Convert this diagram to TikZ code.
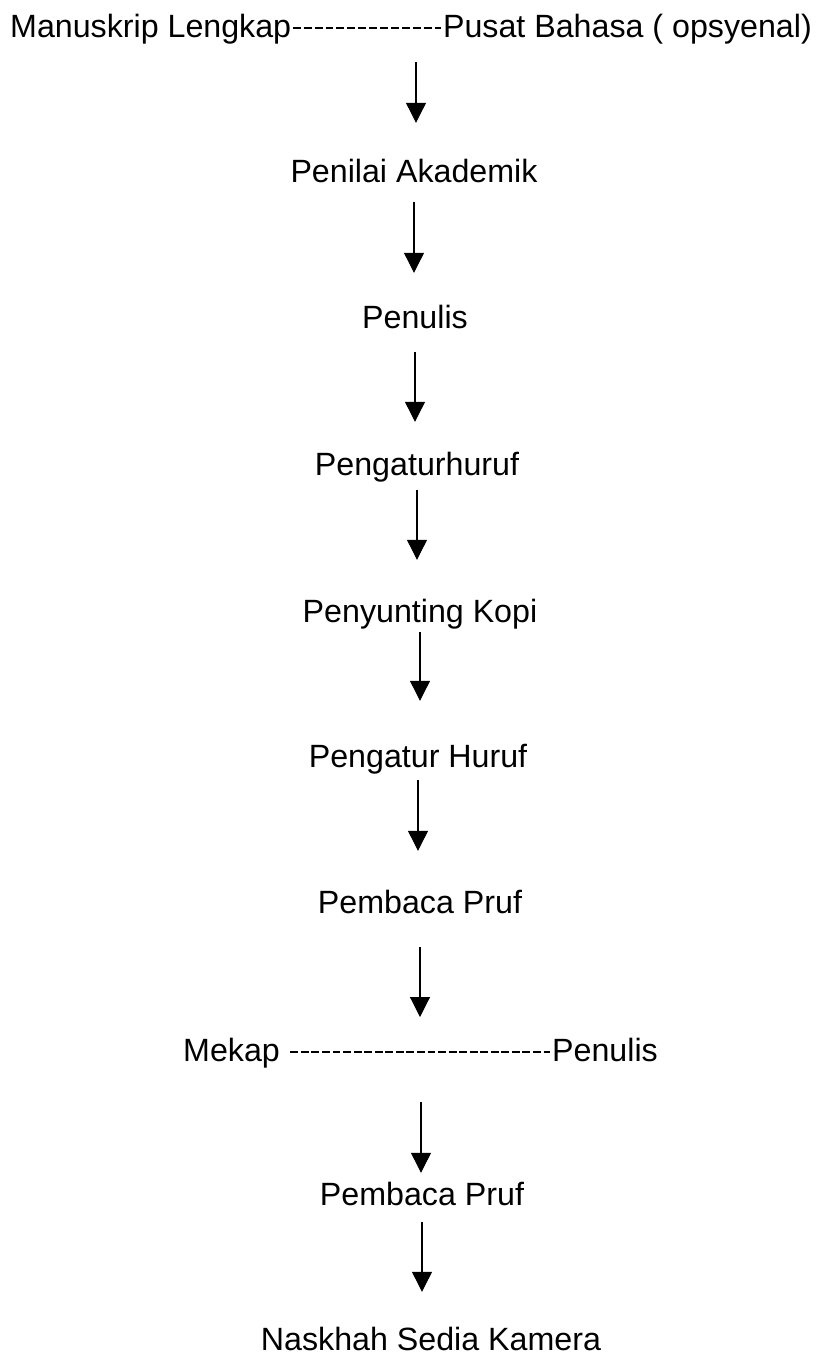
\documentclass[tikz,border=0pt]{standalone}
\usepackage{fontspec}
\setmainfont{Liberation Sans}
\usetikzlibrary{arrows.meta}
\begin{document}
\begin{tikzpicture}[x=1pt,y=-1pt,
  lbl/.style={font=\fontsize{32.2}{38}\selectfont, inner sep=0pt, text height=23.1pt, text depth=6.8pt, anchor=base},
  flow/.style={line width=1.1pt, -{Triangle[width=20pt,length=20pt]}},
  hyph/.style={line width=1.6pt}]
\useasboundingbox[fill=white] (0,0) rectangle (822,1358);

% nodes
\node[lbl, anchor=base west] (ml) at (10,37) {Manuskrip Lengkap};
\node[lbl, anchor=base east] (pb) at (812,37) {Pusat Bahasa ( opsyenal)};
\coordinate (topsrc) at (416,28);
\node[lbl] (n1) at (414,182) {Penilai Akademik};
\node[lbl] (n2) at (415,328) {Penulis};
\node[lbl] (n3) at (417,475) {Pengaturhuruf};
\node[lbl] (n4) at (420,622) {Penyunting Kopi};
\node[lbl] (n5) at (418,767) {Pengatur Huruf};
\node[lbl] (n6) at (420,913) {Pembaca Pruf};
\node[lbl, anchor=base west] (mk) at (183,1061) {Mekap};
\node[lbl, anchor=base east] (pn) at (658,1061) {Penulis};
\coordinate (mksrc) at (421,1052);
\node[lbl] (n7) at (422,1205) {Pembaca Pruf};
\node[lbl] (n8) at (431,1350) {Naskhah Sedia Kamera};

% dashed links
\draw[hyph, dash pattern=on 7.9pt off 3pt] ([xshift=1.4pt,yshift=8.9pt]ml.base east) -- ([xshift=-1.5pt,yshift=8.9pt]pb.base west);
\draw[hyph, dash pattern=on 7.9pt off 2.65pt] ([xshift=10.3pt,yshift=8.9pt]mk.base east) -- ([xshift=-1.5pt,yshift=8.9pt]pn.base west);

% arrows
\draw[flow, shorten <=34pt, shorten >=35.9pt] (topsrc) -- (topsrc |- n1.north);
\draw[flow, shorten <=13.2pt, shorten >=31.9pt] (n1.south) -- (n1.south |- n2.north);
\draw[flow, shorten <=17.2pt, shorten >=29.9pt] (n2.south) -- (n2.south |- n3.north);
\draw[flow, shorten <=8.2pt, shorten >=38.9pt] (n3.south) -- (n3.south |- n4.north);
\draw[flow, shorten <=3.2pt, shorten >=42.9pt] (n4.south) -- (n4.south |- n5.north);
\draw[flow, shorten <=6.2pt, shorten >=38.9pt] (n5.south) -- (n5.south |- n6.north);
\draw[flow, shorten <=27.2pt, shorten >=35pt] (n6.south) -- (n6.south |- mksrc);
\draw[flow, shorten <=50pt, shorten >=8.9pt] (mksrc) -- (mksrc |- n7.north);
\draw[flow, shorten <=10.2pt, shorten >=34.9pt] (n7.south) -- (n7.south |- n8.north);
\end{tikzpicture}
\end{document}
